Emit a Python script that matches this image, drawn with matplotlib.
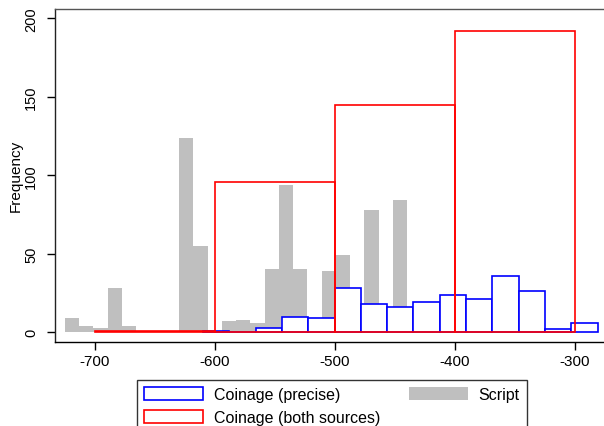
import numpy as np
import matplotlib.pyplot as plt
from matplotlib.patches import Patch

plt.rcParams['font.family'] = ['Liberation Sans', 'DejaVu Sans']

# Script: narrow bins
script_start = -725
script_width = 11.88
script_counts = [9, 4, 3, 28, 4, 0, 0, 0, 124, 55, 0, 7, 8, 6, 40, 94, 40, 5,
                 39, 49, 5, 78, 1, 84, 0, 3]

# Coinage (precise)
precise_start = -610
precise_width = 21.93
precise_counts = [1, 0, 3, 10, 9, 28, 18, 16, 19, 24, 21, 36, 26, 2, 6]

# Coinage (both sources)
both_edges = [-700, -600, -500, -400, -300]
both_counts = [1, 96, 145, 192]

xticks = [-700, -600, -500, -400, -300]
yticks = [0, 50, 100, 150, 200]


def main():
    fig = plt.figure(figsize=(6.04, 4.27), dpi=100)
    ax = fig.add_axes([55 / 604, 1 - 343 / 427, 1 - 55 / 604, (343 - 9.5) / 427])

    sx = script_start + script_width * np.arange(len(script_counts))
    ax.bar(sx, script_counts, width=script_width, align='edge',
           color='#bfbfbf', linewidth=0, zorder=1)

    px = precise_start + precise_width * np.arange(len(precise_counts))
    ax.bar(px, precise_counts, width=precise_width, align='edge',
           facecolor='white', edgecolor='#0000ff', linewidth=1.2, zorder=2)

    bx = np.array(both_edges[:-1])
    bw = np.diff(both_edges)
    ax.bar(bx, both_counts, width=bw, align='edge', fill=False,
           edgecolor='#ff0000', linewidth=1.2, zorder=3)

    ax.set_xlim(-733.3, -275.8)
    ax.set_ylim(-6.2, 206.2)
    ax.set_xticks(xticks)
    ax.set_xticklabels([str(t) for t in xticks], fontsize=11)
    ax.set_yticks(yticks)
    ax.set_yticklabels([str(t) for t in yticks], fontsize=10.5, rotation=90,
                       va='center')
    ax.tick_params(axis='x', length=6, width=1, pad=3)
    ax.tick_params(axis='y', length=6, width=1, pad=6)
    ax.set_ylabel('Frequency', fontsize=11, labelpad=1)

    ax.spines['right'].set_visible(False)
    ax.spines['top'].set_color('#555555')
    ax.spines['left'].set_color('#222222')
    for s in ['top', 'left', 'bottom']:
        ax.spines[s].set_linewidth(1)

    handles = [Patch(facecolor='white', edgecolor='#0000ff', linewidth=1.2),
               Patch(facecolor='white', edgecolor='#ff0000', linewidth=1.2),
               Patch(facecolor='#bfbfbf', edgecolor='none')]
    labels = ['Coinage (precise)', 'Coinage (both sources)', 'Script']
    leg = fig.legend(handles, labels, ncol=2, loc='upper left',
                     bbox_to_anchor=(137 / 604, 1 - 381 / 427),
                     borderaxespad=0, fontsize=11.5, fancybox=False,
                     edgecolor='#333333', framealpha=1,
                     handlelength=3.7, handleheight=0.9, handletextpad=0.65,
                     columnspacing=1.8, labelspacing=0.45, borderpad=0.45)
    leg.get_frame().set_linewidth(1)

    fig.savefig('out.png', dpi=100)


main()
